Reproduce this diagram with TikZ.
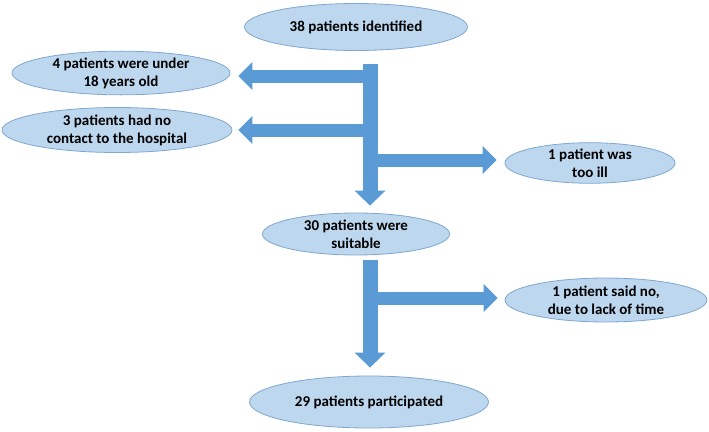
\documentclass[tikz,border=0pt]{standalone}
\usepackage{fontspec}
\setmainfont{Carlito}
\usetikzlibrary{arrows.meta,shapes.geometric,calc}
\definecolor{ellfill}{HTML}{BDD7EE}
\definecolor{elldraw}{HTML}{7FA7CF}
\definecolor{arrfill}{HTML}{5B9BD5}
\tikzset{
  oval/.style={ellipse, draw=elldraw, fill=ellfill, line width=0.8pt, inner sep=0pt,
    align=center, font=\fontsize{15}{18}\selectfont\bfseries},
  vbar/.style={draw=arrfill, line width=15pt, -{Triangle[width=30pt,length=15pt]}},
  hbar/.style={draw=arrfill, line width=13pt, -{Triangle[width=27pt,length=14pt]}}
}
\begin{document}
\begin{tikzpicture}[x=1pt,y=-1pt]
\useasboundingbox (0,0) rectangle (709,431);
\node[oval, minimum width=223pt, minimum height=47pt] (ident) at (356,27) {38 patients identified};
\node[oval, minimum width=218pt, minimum height=42pt] (under) at (121,73) {4 patients were under\\18 years old};
\node[oval, minimum width=230pt, minimum height=45pt] (contact) at (117,130) {3 patients had no\\contact to the hospital};
\node[oval, minimum width=170pt, minimum height=40pt] (ill) at (590,163) {1 patient was\\too ill};
\node[oval, minimum width=187pt, minimum height=42pt] (suit) at (356,234) {30 patients were\\suitable};
\node[oval, minimum width=202pt, minimum height=44pt] (lack) at (606,300) {1 patient said no,\\due to lack of time};
\node[oval, minimum width=239pt, minimum height=52pt] (part) at (369,402) {29 patients participated};

\coordinate (t1) at (370,64);
\coordinate (b1) at (370,76);
\coordinate (b2) at (370,130);
\coordinate (b3) at (370,160);
\coordinate (t2) at (370,260);
\coordinate (b4) at (370,298);

\draw[hbar, shorten >=8pt] (b1) -- (b1 -| under.east);
\draw[hbar, shorten >=6pt] (b2) -- (b2 -| contact.east);
\draw[hbar, shorten >=8pt] (b3) -- (b3 -| ill.west);
\draw[vbar, shorten >=7pt] (t1) -- (t1 |- suit.north);
\draw[hbar, shorten >=7pt] (b4) -- (b4 -| lack.west);
\draw[vbar, shorten >=8pt] (t2) -- (t2 |- part.north);
\end{tikzpicture}
\end{document}
